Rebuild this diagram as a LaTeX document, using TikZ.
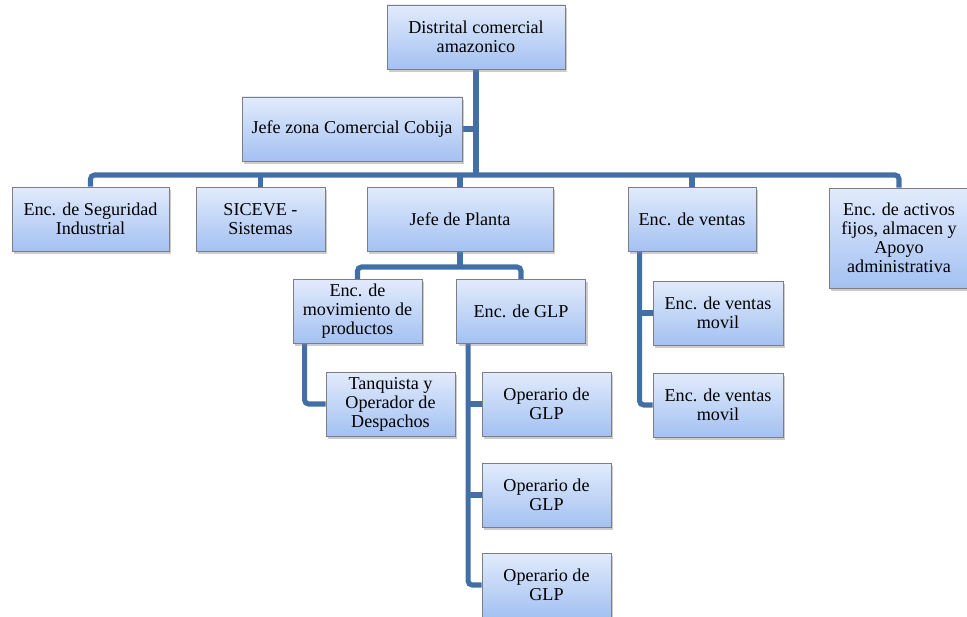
\documentclass[tikz,border=0pt]{standalone}
\usepackage{fontspec}
\setmainfont{Liberation Serif}
\newfontfamily\boxfont{Liberation Serif}
\usetikzlibrary{shapes,positioning,calc,backgrounds,shadows}

\definecolor{boxtop}{RGB}{226,235,252}
\definecolor{boxbot}{RGB}{163,193,242}
\definecolor{boxline}{RGB}{125,125,130}
\definecolor{linkblue}{RGB}{66,112,166}

\begin{document}
\begin{tikzpicture}[
    x=0.75pt, y=-0.75pt,
    unit/.style={rectangle, draw=boxline, line width=0.6pt, top color=boxtop, bottom color=boxbot,
                 align=center, minimum height=48pt, inner sep=2pt,
                 drop shadow={shadow xshift=1.6pt, shadow yshift=-2pt, opacity=.4},
                 font=\boxfont\fontsize{13.6}{14.3}\selectfont},
    wd/.style={minimum width=#1*0.75pt},
    conn/.style={draw=linkblue, line width=3.8pt, rounded corners=3pt}
]
\useasboundingbox (0,0) rectangle (967,617);

%% ── Direccion ────────────────────────────────────────────────────
\node[unit, wd=178] (distrital) at (476,37) {Distrital comercial\\amazonico};
\node[unit, wd=220] (zona) at (352,129) {Jefe zona Comercial Cobija};

%% ── Primer nivel ─────────────────────────────────────────────────
\node[unit, wd=157] (seguridad) at (90.5,219) {Enc. de Seguridad\\Industrial};
\node[unit, wd=129] (siceve) at (260.5,219) {SICEVE -\\Sistemas};
\node[unit, wd=186] (planta) at (460,219) {Jefe de Planta};
\node[unit, wd=128] (ventas) at (692,219) {Enc. de ventas};
\node[unit, wd=140, minimum height=75pt] (activos) at (899,238)
    {Enc. de activos\\fijos, almacen y\\Apoyo\\administrativa};

%% ── Planta ───────────────────────────────────────────────────────
\node[unit, wd=129] (movim) at (357.5,311.5) {Enc. de\\movimiento de\\productos};
\node[unit, wd=129] (glp) at (521,311.5) {Enc. de GLP};
\node[unit, wd=129] (tanquista) at (390.5,404) {Tanquista y\\Operador de\\Despachos};
\node[unit, wd=129] (oper1) at (546.5,404) {Operario de\\GLP};
\node[unit, wd=129] (oper2) at (546.5,495) {Operario de\\GLP};
\node[unit, wd=129] (oper3) at (546.5,585) {Operario de\\GLP};

%% ── Ventas ───────────────────────────────────────────────────────
\node[unit, wd=130] (movil1) at (718,313) {Enc. de ventas\\movil};
\node[unit, wd=130] (movil2) at (718,405) {Enc. de ventas\\movil};

%% ── Conectores ───────────────────────────────────────────────────
\begin{scope}[on background layer]
\coordinate (bus) at (476,175);
\coordinate (pbus) at (460,267);
\coordinate (mspine) at ([xshift=9pt]movim.south west);
\coordinate (gspine) at ([xshift=9pt]glp.south west);
\coordinate (vspine) at ([xshift=9pt]ventas.south west);

\draw[conn] (distrital.south) -- (bus);
\draw[conn] (zona.east) -- (zona.east -| bus);
\draw[conn] (seguridad.north) |- (bus) -| (activos.north);
\foreach \n in {siceve, planta, ventas}
    \draw[conn] (\n.north) -- (\n.north |- bus);

\draw[conn] (planta.south) -- (pbus);
\draw[conn] (movim.north) |- (pbus) -| (glp.north);
\draw[conn] (mspine) |- (tanquista.west);

\draw[conn] (gspine) |- (oper3.west);
\foreach \n in {oper1, oper2}
    \draw[conn] (\n.west) -- (\n.west -| gspine);

\draw[conn] (vspine) |- (movil2.west);
\draw[conn] (movil1.west) -- (movil1.west -| vspine);
\end{scope}

\end{tikzpicture}
\end{document}
